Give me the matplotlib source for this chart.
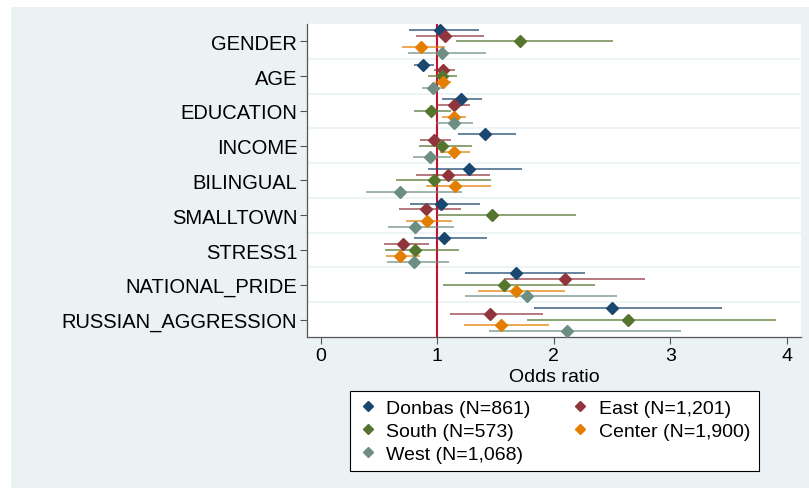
import matplotlib.pyplot as plt
from matplotlib.patches import Rectangle
from matplotlib.lines import Line2D

plt.rcParams['font.family'] = ['Liberation Sans', 'DejaVu Sans']

# Variables (top to bottom)
variables = ['GENDER', 'AGE', 'EDUCATION', 'INCOME', 'BILINGUAL',
             'SMALLTOWN', 'STRESS1', 'NATIONAL_PRIDE', 'RUSSIAN_AGGRESSION']

regions = ['Donbas (N=861)', 'East (N=1,201)', 'South (N=573)',
           'Center (N=1,900)', 'West (N=1,068)']
colors = ['#1a476f', '#90353b', '#55752f', '#e37e00', '#6e8e84']

# Odds ratios and 95% CI per region, in the order of variables
donbas_or = [1.02, 0.88, 1.20, 1.41, 1.27, 1.03, 1.06, 1.68, 2.50]
donbas_lo = [0.76, 0.80, 1.04, 1.18, 0.92, 0.77, 0.80, 1.24, 1.83]
donbas_hi = [1.36, 0.97, 1.38, 1.68, 1.73, 1.37, 1.43, 2.27, 3.44]

east_or = [1.07, 1.05, 1.14, 0.97, 1.09, 0.90, 0.71, 2.10, 1.45]
east_lo = [0.82, 0.97, 1.00, 0.85, 0.82, 0.67, 0.54, 1.57, 1.11]
east_hi = [1.40, 1.15, 1.28, 1.12, 1.45, 1.20, 0.93, 2.78, 1.91]

south_or = [1.71, 1.04, 0.95, 1.04, 0.97, 1.47, 0.81, 1.57, 2.64]
south_lo = [1.16, 0.92, 0.80, 0.84, 0.65, 1.00, 0.55, 1.05, 1.77]
south_hi = [2.51, 1.17, 1.12, 1.30, 1.46, 2.19, 1.19, 2.35, 3.91]

center_or = [0.86, 1.05, 1.14, 1.14, 1.15, 0.91, 0.68, 1.68, 1.55]
center_lo = [0.70, 0.98, 1.04, 1.02, 0.90, 0.73, 0.56, 1.35, 1.23]
center_hi = [1.07, 1.12, 1.25, 1.28, 1.46, 1.13, 0.85, 2.10, 1.96]

west_or = [1.04, 0.96, 1.14, 0.94, 0.68, 0.81, 0.80, 1.77, 2.11]
west_lo = [0.75, 0.87, 0.99, 0.79, 0.39, 0.58, 0.57, 1.24, 1.44]
west_hi = [1.42, 1.05, 1.31, 1.12, 1.21, 1.14, 1.10, 2.54, 3.09]

ors = [donbas_or, east_or, south_or, center_or, west_or]
los = [donbas_lo, east_lo, south_lo, center_lo, west_lo]
his = [donbas_hi, east_hi, south_hi, center_hi, west_hi]

bg = '#eaf2f3'
fs = 14
fig = plt.figure(figsize=(8.09, 4.89), dpi=100, facecolor='white')
fig.patches.append(Rectangle((11 / 809, 0), 1, 1 - 8 / 489, transform=fig.transFigure,
                             facecolor=bg, edgecolor='none', zorder=-10))

ax = fig.add_axes([307 / 809, 1 - 338 / 489, (801 - 307) / 809, (338 - 25) / 489])
ax.set_facecolor('white')

pos = list(range(1, len(variables) + 1))
for j in range(len(regions)):
    off = (j - 2) / 6
    ys = [p + off for p in pos]
    ax.hlines(ys, los[j], his[j], color=colors[j], lw=1.1, alpha=0.85, zorder=3)
    ax.plot(ors[j], ys, 'D', color=colors[j], ms=6.5, mec=colors[j], zorder=4,
            linestyle='none')

ax.axvline(1, color='#c8102e', lw=1.5, zorder=2)

# separating lines between variables
for k in range(1, len(variables)):
    ax.axhline(k + 0.5, color=bg, lw=1.2, zorder=1)

ax.set_ylim(9.5, 0.5)
ax.set_xlim(-0.118, 4.122)
ax.set_yticks(pos)
ax.set_yticklabels(variables, fontsize=14.5)
ax.set_xticks([0, 1, 2, 3, 4])
ax.set_xticklabels(['0', '1', '2', '3', '4'], fontsize=fs)
ax.set_xlabel('Odds ratio', fontsize=fs, labelpad=3)
ax.tick_params(axis='both', length=5, width=0.8, color='#555555', pad=2)

for s in ['top', 'right']:
    ax.spines[s].set_visible(False)
for s in ['left', 'bottom']:
    ax.spines[s].set_color('#555555')
    ax.spines[s].set_linewidth(0.9)

handles = [Line2D([], [], marker='D', color=c, linestyle='none', ms=5) for c in colors]
order = [0, 2, 4, 1, 3]
leg = fig.legend([handles[i] for i in order], [regions[i] for i in order],
                 loc='center', bbox_to_anchor=(554.5 / 809, 1 - 432 / 489),
                 ncol=2, fontsize=fs, frameon=True, fancybox=False,
                 edgecolor='black', framealpha=1, handlelength=0.9,
                 handletextpad=0.5, columnspacing=2.1, labelspacing=0.27,
                 borderpad=0.45)
leg.get_frame().set_linewidth(0.8)

fig.savefig('out.png', dpi=100, facecolor=fig.get_facecolor())
